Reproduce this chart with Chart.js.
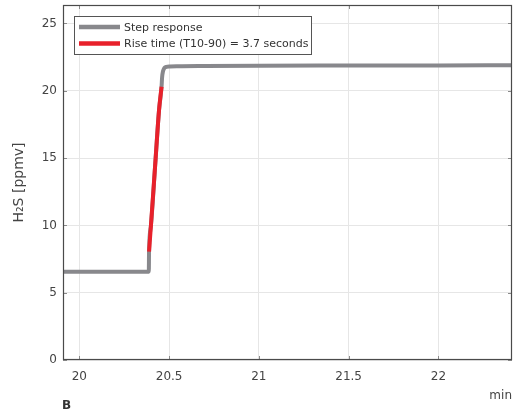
<!DOCTYPE html>
<html>
<head>
<meta charset="utf-8">
<script src="https://cdn.jsdelivr.net/npm/chart.js@4"></script>
<style>
  html, body { margin: 0; padding: 0; background: #fff; }
  #wrap { position: relative; width: 522px; height: 416px; }
  #panel { position: absolute; left: 62px; top: 398px; font: bold 12px "DejaVu Sans", sans-serif; color: #333; }
</style>
</head>
<body>
<div id="wrap">
  <canvas id="c" width="522" height="416"></canvas>
  <div id="panel">B</div>
</div>
<script>
// ---- data ----
const stepX = [19.909, 20.10, 20.30, 20.387, 20.3883, 20.3989, 20.4251, 20.444, 20.458, 20.461, 20.466, 20.473, 20.485, 20.505, 20.55, 20.70, 21.00, 21.50, 22.00, 22.41];
const stepY = [6.55, 6.55, 6.56, 6.56, 8.05, 10.0, 15.0, 18.57, 20.3, 21.0, 21.45, 21.68, 21.77, 21.80, 21.82, 21.84, 21.86, 21.87, 21.88, 21.90];
const riseX = [20.3883, 20.3989, 20.4251, 20.444, 20.458];
const riseY = [8.05, 10.0, 15.0, 18.57, 20.3];
const seriesLabels = ['Step response', 'Rise time (T10-90) = 3.7 seconds'];
const xTickValues = [20, 20.5, 21, 21.5, 22];
const xTickLabels = ['20', '20.5', '21', '21.5', '22'];
const yTickValues = [0, 5, 10, 15, 20, 25];
const yTickLabels = ['0', '5', '10', '15', '20', '25'];

const GRAY = '#88888c';
const RED = '#e8212b';
const FONT = '"DejaVu Sans", sans-serif';

const toPts = (xs, ys) => xs.map((x, i) => ({ x, y: ys[i] }));

const frameAndLegend = {
  id: 'frameAndLegend',
  afterDatasetsDraw(chart) {
    const { ctx, chartArea: a, scales: { x, y } } = chart;
    ctx.save();
    ctx.strokeStyle = '#8a8a8a';
    ctx.lineWidth = 1;
    const tl = 4;
    ctx.beginPath();
    xTickValues.forEach(v => {
      const px = Math.round(x.getPixelForValue(v)) + 0.5;
      ctx.moveTo(px, a.bottom); ctx.lineTo(px, a.bottom - tl);
      ctx.moveTo(px, a.top); ctx.lineTo(px, a.top + tl);
    });
    yTickValues.forEach(v => {
      const py = Math.round(y.getPixelForValue(v)) + 0.5;
      ctx.moveTo(a.left, py); ctx.lineTo(a.left + tl, py);
      ctx.moveTo(a.right, py); ctx.lineTo(a.right - tl, py);
    });
    ctx.stroke();
    ctx.strokeStyle = '#4a4a4a';
    ctx.lineWidth = 1.2;
    ctx.strokeRect(Math.round(a.left) + 0.5, Math.round(a.top) + 0.5,
                   Math.round(a.right - a.left) - 1, Math.round(a.bottom - a.top) - 1);

    // legend box inside the plot
    ctx.font = '11px ' + FONT;
    const bx = a.left + 11, by = a.top + 11;
    const sampleLen = 41, gap = 4, rowH = 16.5, padX = 5;
    const textW = Math.max(...chart.data.datasets.map(d => ctx.measureText(d.label).width));
    const bw = padX + sampleLen + gap + textW + 3;
    const bh = rowH * chart.data.datasets.length + 5;
    ctx.fillStyle = '#fff';
    ctx.fillRect(bx, by, bw, bh);
    ctx.strokeStyle = '#555';
    ctx.lineWidth = 1;
    ctx.strokeRect(Math.round(bx) + 0.5, Math.round(by) + 0.5, Math.round(bw), Math.round(bh));
    chart.data.datasets.forEach((d, i) => {
      const cy = by + 11 + i * rowH;
      ctx.strokeStyle = d.borderColor;
      ctx.lineWidth = 4.5;
      ctx.lineCap = 'butt';
      ctx.beginPath();
      ctx.moveTo(bx + padX, cy);
      ctx.lineTo(bx + padX + sampleLen, cy);
      ctx.stroke();
      ctx.fillStyle = '#333';
      ctx.textBaseline = 'middle';
      ctx.textAlign = 'left';
      ctx.fillText(d.label, bx + padX + sampleLen + gap, cy + 1);
    });
    ctx.restore();
  }
};

new Chart(document.getElementById('c'), {
  type: 'line',
  data: {
    datasets: [
      { label: seriesLabels[0], data: toPts(stepX, stepY), borderColor: GRAY, borderWidth: 4,
        pointRadius: 0, cubicInterpolationMode: 'monotone', borderJoinStyle: 'round', borderCapStyle: 'butt', order: 2 },
      { label: seriesLabels[1], data: toPts(riseX, riseY), borderColor: RED, borderWidth: 4,
        pointRadius: 0, cubicInterpolationMode: 'monotone', borderJoinStyle: 'round', borderCapStyle: 'butt', order: 1 }
    ]
  },
  options: {
    responsive: false,
    animation: false,
    devicePixelRatio: 1,
    layout: { padding: { top: 5, right: 10, left: 0, bottom: 0 } },
    plugins: { legend: { display: false }, tooltip: { enabled: false } },
    scales: {
      x: {
        type: 'linear', min: 19.909, max: 22.41,
        afterBuildTicks: s => { s.ticks = xTickValues.map(v => ({ value: v })); },
        afterFit: s => { s.height = 56; s.paddingLeft = 0; s.paddingRight = 0; },
        ticks: { callback: v => xTickLabels[xTickValues.indexOf(v)], color: '#444',
                 font: { family: FONT, size: 12 }, padding: 10, maxRotation: 0, autoSkip: false },
        grid: { color: '#e6e6e6', lineWidth: 1, drawTicks: false },
        border: { display: false },
        title: { display: true, text: 'min', align: 'end', color: '#444',
                 font: { family: FONT, size: 12 }, padding: { top: 0, bottom: 13 } }
      },
      y: {
        type: 'linear', min: 0, max: 26.37,
        afterBuildTicks: s => { s.ticks = yTickValues.map(v => ({ value: v })); },
        afterFit: s => { s.width = 63; s.paddingTop = 0; s.paddingBottom = 0; },
        ticks: { callback: v => yTickLabels[yTickValues.indexOf(v)], color: '#444',
                 font: { family: FONT, size: 12 }, padding: 6, autoSkip: false },
        grid: { color: '#e6e6e6', lineWidth: 1, drawTicks: false },
        border: { display: false },
        title: { display: true, text: 'H\u2082S [ppmv]', color: '#444',
                 font: { family: FONT, size: 14 }, padding: { top: 11, bottom: 0 } }
      }
    }
  },
  plugins: [frameAndLegend]
});
</script>
</body>
</html>
